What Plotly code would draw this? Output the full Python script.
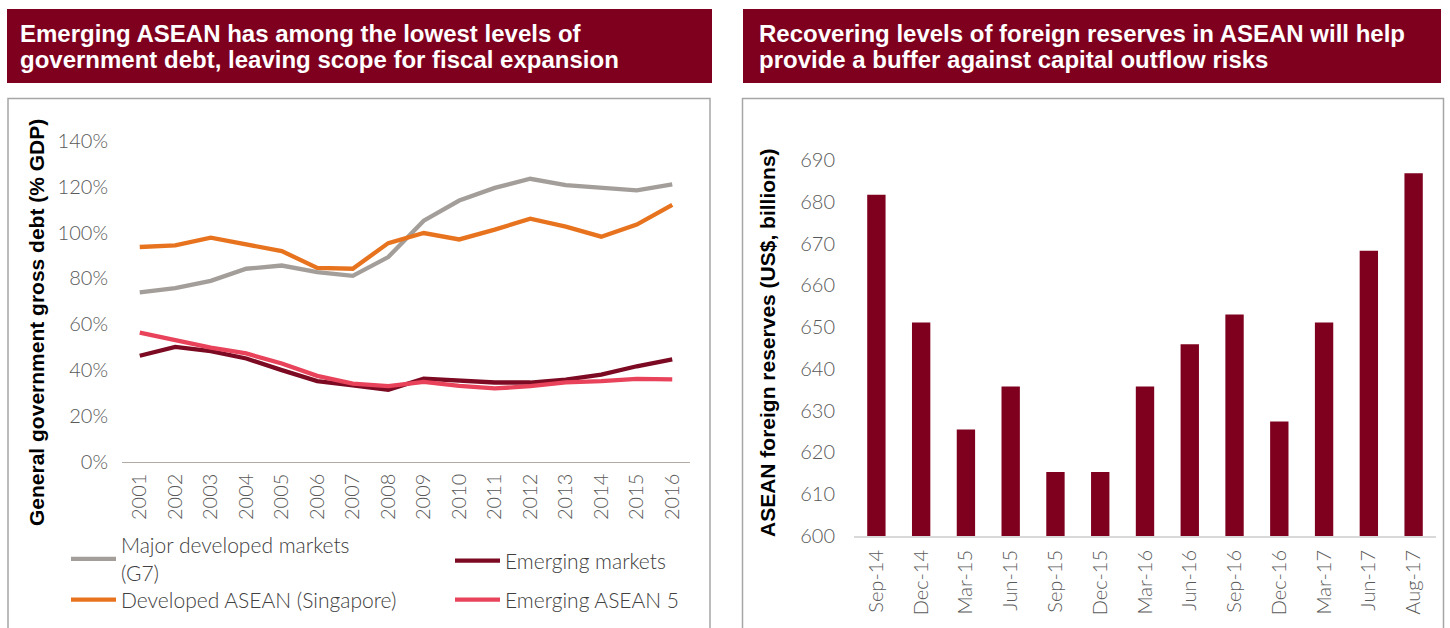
import plotly.graph_objects as go

# ---------------- data ----------------
years = list(range(2001, 2017))
g7 = [73.9, 75.7, 78.9, 84.2, 85.6, 82.7, 81.1, 89.3, 105.2, 114.0, 119.5, 123.5, 120.7, 119.4, 118.4, 121.1]
singapore = [93.7, 94.4, 97.8, 94.7, 91.9, 84.6, 84.2, 95.4, 99.8, 97.0, 101.3, 106.1, 102.6, 98.2, 103.5, 112.1]
emerging = [46.2, 50.1, 48.2, 45.0, 39.9, 35.1, 33.3, 31.3, 36.2, 35.5, 34.5, 34.5, 35.8, 38.0, 41.6, 44.6]
asean5 = [56.3, 52.8, 49.7, 47.2, 42.8, 37.4, 34.0, 32.9, 34.8, 33.0, 31.9, 32.9, 34.6, 35.1, 36.1, 35.9]
debt_ticks = [0, 20, 40, 60, 80, 100, 120, 140]
debt_tick_labels = ["0%", "20%", "40%", "60%", "80%", "100%", "120%", "140%"]

months = ["Sep-14", "Dec-14", "Mar-15", "Jun-15", "Sep-15", "Dec-15", "Mar-16",
          "Jun-16", "Sep-16", "Dec-16", "Mar-17", "Jun-17", "Aug-17"]
reserves = [681.7, 651.1, 625.5, 635.8, 615.3, 615.3, 635.8, 645.9, 653.0, 627.4, 651.1, 668.3, 686.8]
reserve_ticks = [600, 610, 620, 630, 640, 650, 660, 670, 680, 690]

title_left = ["Emerging ASEAN has among the lowest levels of",
              "government debt, leaving scope for fiscal expansion"]
title_right = ["Recovering levels of foreign reserves in ASEAN will help",
               "provide a buffer against capital outflow risks"]
ytitle_left = "General government gross debt (% GDP)"
ytitle_right = "ASEAN foreign reserves (US$, billions)"

# ---------------- styling ----------------
W, H = 1450, 628
def px(x):
    return x / W
def py(y):
    return 1 - y / H

MAROON = "#7F001E"
GREY_LINE = "#A39E99"
ORANGE = "#E8731F"
DARK_RED = "#7C0A22"
PINK = "#E8435A"
TICK_FONT = dict(family="Lato, Liberation Sans, sans-serif", size=20, color="#595959", weight=300)
LEG_FONT = dict(family="Lato, Liberation Sans, sans-serif", size=21, color="#404040", weight=300)
TITLE_FONT = dict(family="Liberation Sans, Arial, sans-serif", size=24, color="white", weight="bold")
YT_FONT = dict(family="Liberation Sans, Arial, sans-serif", size=21, color="black", weight="bold")

fig = go.Figure()

series = [
    ("Major developed markets<br>(G7)", g7, GREY_LINE, "legend"),
    ("Emerging markets", emerging, DARK_RED, "legend2"),
    ("Developed ASEAN (Singapore)", singapore, ORANGE, "legend3"),
    ("Emerging ASEAN 5", asean5, PINK, "legend4"),
]
for name, vals, col, leg in series:
    fig.add_trace(go.Scatter(x=years, y=vals, name=name, mode="lines",
                             line=dict(color=col, width=4.3), legend=leg,
                             xaxis="x", yaxis="y"))

fig.add_trace(go.Bar(x=months, y=reserves, marker=dict(color=MAROON, line=dict(width=0)),
                     showlegend=False, xaxis="x2", yaxis="y2"))

legend_common = dict(font=LEG_FONT, bgcolor="rgba(0,0,0,0)", borderwidth=0,
                     xanchor="left", yanchor="middle", itemwidth=45, valign="middle")

fig.update_layout(
    width=W, height=H,
    margin=dict(l=0, r=0, t=0, b=0, autoexpand=False),
    paper_bgcolor="white", plot_bgcolor="white",
    bargap=0.59,
    xaxis=dict(domain=[px(122), px(690)], range=[2000.5, 2016.5],
               tickvals=years, tickangle=-90, tickfont=TICK_FONT,
               showline=True, linecolor="#B3ABA3", linewidth=1.2,
               showgrid=False, zeroline=False, automargin=False,
               ticks="outside", ticklen=3, tickcolor="rgba(0,0,0,0)", anchor="y"),
    yaxis=dict(domain=[py(461.5), py(141)], range=[0, 140],
               tickvals=debt_ticks, ticktext=debt_tick_labels, tickfont=TICK_FONT,
               showline=False, showgrid=False, zeroline=False, automargin=False,
               ticks="outside", ticklen=9, tickcolor="rgba(0,0,0,0)", anchor="x"),
    xaxis2=dict(domain=[px(854), px(1436)], type="category", range=[-0.5, 12.5],
                tickangle=-90, tickfont=TICK_FONT,
                showline=True, linecolor="#D9D9D9", linewidth=2,
                showgrid=False, zeroline=False, automargin=False,
                ticks="outside", ticklen=4, tickcolor="rgba(0,0,0,0)", anchor="y2"),
    yaxis2=dict(domain=[py(536), py(160)], range=[600, 690],
                tickvals=reserve_ticks, tickfont=TICK_FONT,
                showline=False, showgrid=False, zeroline=False, automargin=False,
                ticks="outside", ticklen=14, tickcolor="rgba(0,0,0,0)", anchor="x2"),
    legend=dict(x=px(66), y=py(559), **legend_common),
    legend2=dict(x=px(450), y=py(561), **legend_common),
    legend3=dict(x=px(66), y=py(600), **legend_common),
    legend4=dict(x=px(450), y=py(600), **legend_common),
    showlegend=True,
)

shapes = []
# banners
shapes.append(dict(type="rect", xref="paper", yref="paper", x0=px(7), x1=px(712), y0=py(83), y1=py(9),
                   fillcolor=MAROON, line=dict(width=0), layer="below"))
shapes.append(dict(type="rect", xref="paper", yref="paper", x0=px(743), x1=px(1441), y0=py(83), y1=py(9),
                   fillcolor=MAROON, line=dict(width=0), layer="below"))
# panel borders
shapes.append(dict(type="rect", xref="paper", yref="paper", x0=px(8), x1=px(710), y0=py(640), y1=py(98.5),
                   fillcolor="rgba(0,0,0,0)", line=dict(width=1.5, color="#A6A6A6"), layer="below"))
shapes.append(dict(type="rect", xref="paper", yref="paper", x0=px(742.5), x1=px(1443.5), y0=py(640), y1=py(98.5),
                   fillcolor="rgba(0,0,0,0)", line=dict(width=1.5, color="#A6A6A6"), layer="below"))
fig.update_layout(shapes=shapes)

annotations = []
for i, t in enumerate(title_left):
    annotations.append(dict(text=t, xref="paper", yref="paper", x=px(18), y=py(33 + i * 27),
                            xanchor="left", yanchor="middle", showarrow=False, font=TITLE_FONT))
for i, t in enumerate(title_right):
    annotations.append(dict(text=t, xref="paper", yref="paper", x=px(757), y=py(33 + i * 27),
                            xanchor="left", yanchor="middle", showarrow=False, font=TITLE_FONT))
annotations.append(dict(text=ytitle_left, xref="paper", yref="paper", x=px(36), y=py(323),
                        xanchor="center", yanchor="middle", textangle=-90, showarrow=False, font=YT_FONT))
annotations.append(dict(text=ytitle_right, xref="paper", yref="paper", x=px(767), y=py(343),
                        xanchor="center", yanchor="middle", textangle=-90, showarrow=False, font=YT_FONT))
fig.update_layout(annotations=annotations)

fig.write_html("out.html", config={"displayModeBar": False},
               post_script="document.body.style.margin='0';")
